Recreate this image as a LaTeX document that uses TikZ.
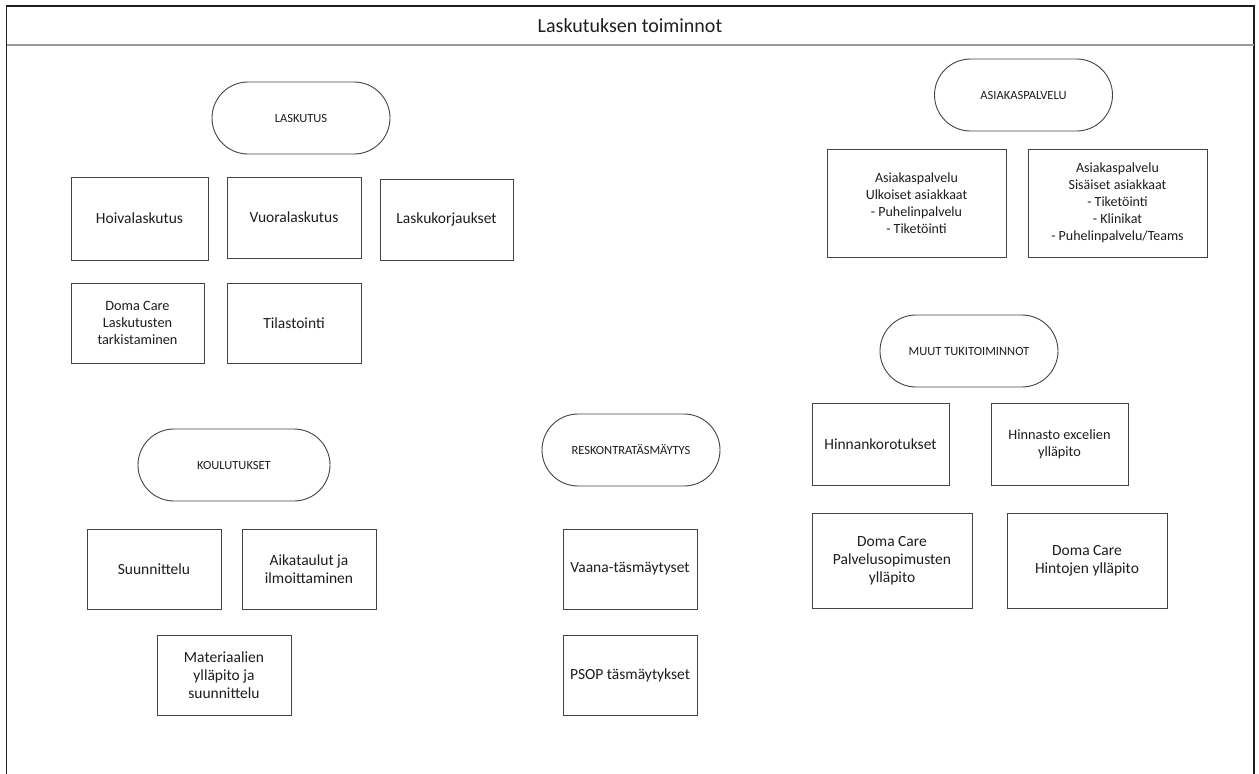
\documentclass[tikz,border=0pt]{standalone}
\usepackage{fontspec}
\setmainfont{Carlito}
\usetikzlibrary{shapes.misc}
\definecolor{edge}{HTML}{444444}
\definecolor{rule}{HTML}{9A9A9A}
\definecolor{ink}{HTML}{1E1E1E}
\tikzset{
  every node/.style={text=ink, align=center},
  pill/.style={draw=edge, line width=0.9pt, rounded rectangle,
    minimum width=178pt, minimum height=72pt, inner sep=0pt,
    font=\fontsize{12.5}{15}\selectfont},
  task/.style={draw=edge, line width=0.9pt, rectangle, inner sep=2pt,
    font=\fontsize{15.5}{18}\selectfont},
  smalltask/.style={task, font=\fontsize{14.3}{17}\selectfont},
  listtask/.style={task, font=\fontsize{14}{17}\selectfont},
  frameline/.style={draw=ink, line width=1.2pt},
}
\newcommand{\taskbox}[6]{%
  \node[#1, minimum width=#4pt, minimum height=#5pt] (#6) at (#2,#3)}
\begin{document}
\begin{tikzpicture}[x=1pt, y=-1pt]
  \useasboundingbox (0,0) rectangle (1259,774);
  \fill[white] (0,0) rectangle (1259,774);

  % outer frame (open at the bottom) and title band
  \coordinate (fbl) at (6.5,774);
  \coordinate (ftl) at (6.5,6);
  \coordinate (ftr) at (1254,6);
  \coordinate (fbr) at (1254,774);
  \coordinate (sepl) at (6.5,45);
  \coordinate (sepr) at (1254,45);
  \draw[frameline] (fbl) -- (ftl) -- (ftr) -- (fbr);
  \draw[rule, line width=2pt] (sepl) -- (sepr);
  \node[font=\fontsize{20}{24}\selectfont] (title) at (630,26) {Laskutuksen toiminnot};

  % Laskutus
  \node[pill] (laskutus) at (301,118) {LASKUTUS};
  \taskbox{task}{139.5}{218.5}{137}{83}{hoiva} {Hoivalaskutus};
  \taskbox{task}{294}{217.5}{134}{81}{vuoro} {Vuoralaskutus};
  \taskbox{task}{446.5}{219.5}{133}{81}{korjaus} {Laskukorjaukset};
  \taskbox{smalltask}{137.5}{323}{133}{80}{tarkistus} {Doma Care\\Laskutusten\\tarkistaminen};
  \taskbox{task}{294}{323}{134}{80}{tilastointi} {Tilastointi};

  % Asiakaspalvelu
  \node[pill] (asiakas) at (1023.5,95) {ASIAKASPALVELU};
  \taskbox{listtask}{916.5}{203}{179}{108}{ulkoiset} {Asiakaspalvelu\\Ulkoiset asiakkaat\\- Puhelinpalvelu\\- Tiketöinti};
  \taskbox{listtask}{1117.5}{203}{179}{108}{sisaiset} {Asiakaspalvelu\\Sisäiset asiakkaat\\- Tiketöinti\\- Klinikat\\- Puhelinpalvelu/Teams};

  % Muut tukitoiminnot
  \node[pill] (muut) at (969,351) {MUUT TUKITOIMINNOT};
  \taskbox{task}{880.5}{444}{137}{82}{korotus} {Hinnankorotukset};
  \taskbox{smalltask}{1059.5}{444}{137}{82}{hinnasto} {Hinnasto excelien\\ylläpito};
  \taskbox{task}{892}{560.5}{160}{95}{sopimus} {Doma Care\\Palvelusopimusten\\ylläpito};
  \taskbox{task}{1087}{560.5}{160}{95}{hinnat} {Doma Care\\Hintojen ylläpito};

  % Koulutukset
  \node[pill, minimum width=192pt] (koulutus) at (234,465) {KOULUTUKSET};
  \taskbox{task}{154}{569}{134}{80}{suunnittelu} {Suunnittelu};
  \taskbox{task}{309}{569}{134}{80}{aikataulu} {Aikataulut ja\\ilmoittaminen};
  \taskbox{task}{224}{675}{134}{80}{materiaali} {Materiaalien\\ylläpito ja\\suunnittelu};

  % Reskontratäsmäytys
  \node[pill] (reskontra) at (631,450) {RESKONTRATÄSMÄYTYS};
  \taskbox{task}{630}{569}{134}{80}{vaana} {Vaana-täsmäytyset};
  \taskbox{task}{630}{675}{134}{80}{psop} {PSOP täsmäytykset};
\end{tikzpicture}
\end{document}
